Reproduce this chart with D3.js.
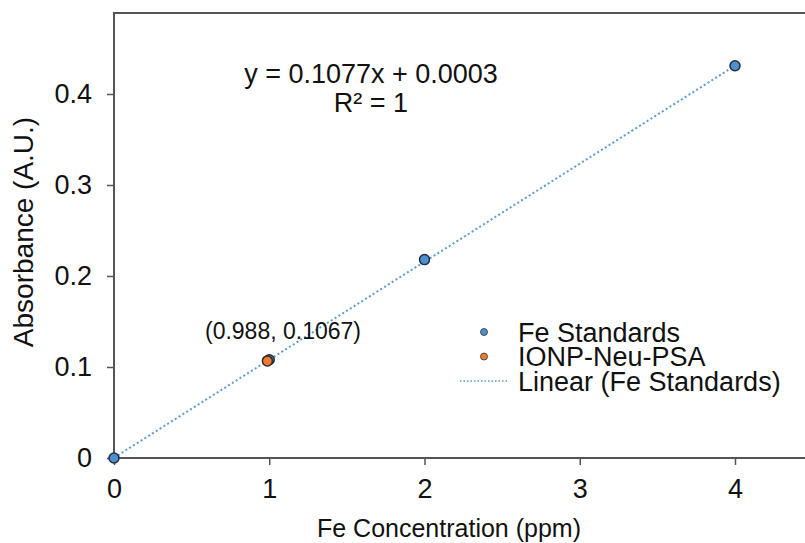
<!DOCTYPE html>
<html>
<head>
<meta charset="utf-8">
<script src="https://cdn.jsdelivr.net/npm/d3@7"></script>
<style>
html, body { margin: 0; padding: 0; background: #fff; overflow: hidden; }
text { font-family: "Liberation Sans", Arial, sans-serif; fill: #111; }
</style>
</head>
<body>
<script>

// calibration data
var stdX = [0, 1, 2, 4],
    stdY = [0, 0.108, 0.218, 0.431];
var sampleX = [0.988],
    sampleY = [0.1067];
var slope = 0.1077, intercept = 0.0003;
var xTicks = [0, 1, 2, 3, 4],
    yTicks = [0, 0.1, 0.2, 0.3, 0.4];

var w = 805, h = 543;
var svg = d3.select('body').append('svg')
    .attr('width', w)
    .attr('height', h);

var x = d3.scaleLinear().domain([0, 4]).range([114, 735]);
var y = d3.scaleLinear().domain([0, 0.4]).range([458, 94]);

var axisColor = '#555';

// frame (left, top, bottom; right edge is off the picture)
svg.append('path')
  .attr('d', 'M' + w + ',13H114V458H' + w)
  .attr('fill', 'none')
  .attr('stroke', axisColor)
  .attr('stroke-width', 2);

// y axis
var yAxis = svg.append('g')
  .attr('transform', 'translate(114,0)')
  .call(d3.axisLeft(y).tickValues(yTicks).tickSize(7).tickPadding(15)
    .tickFormat(function(d){ return d === 0 ? '0' : d3.format('.1f')(d); }));
yAxis.select('.domain').remove();
yAxis.selectAll('line').attr('stroke', axisColor).attr('stroke-width', 1.5);
yAxis.selectAll('text').style('font-size', '27px').attr('fill', '#111');

// x axis
var xAxis = svg.append('g')
  .attr('transform', 'translate(0,458)')
  .call(d3.axisBottom(x).tickValues(xTicks).tickSize(7).tickPadding(14)
    .tickFormat(d3.format('d')));
xAxis.select('.domain').remove();
xAxis.selectAll('line').attr('stroke', axisColor).attr('stroke-width', 1.5);
xAxis.selectAll('text').style('font-size', '27px').attr('fill', '#111');

// axis titles
svg.append('text')
  .attr('x', 449).attr('y', 537)
  .attr('text-anchor', 'middle')
  .style('font-size', '25px')
  .text('Fe Concentration (ppm)');

svg.append('text')
  .attr('transform', 'translate(33,232) rotate(-90)')
  .attr('text-anchor', 'middle')
  .style('font-size', '28px')
  .text('Absorbance (A.U.)');

// linear trendline
svg.append('line')
  .attr('x1', x(0)).attr('y1', y(intercept))
  .attr('x2', x(4)).attr('y2', y(slope * 4 + intercept))
  .attr('stroke', '#5b9bd5')
  .attr('stroke-width', 2)
  .attr('stroke-dasharray', '2,2.5');

var blue = '#4f8fd0', orange = '#ec7a35';

// standards
svg.selectAll('circle.std')
  .data(stdX.map(function(d, i){ return [d, stdY[i]]; }))
  .enter().append('circle')
  .attr('class', 'std')
  .attr('cx', function(d){ return x(d[0]); })
  .attr('cy', function(d){ return y(d[1]); })
  .attr('r', 5)
  .attr('fill', blue)
  .attr('stroke', '#1f2f3f')
  .attr('stroke-width', 1.5);

// sample with tiny error bar
var samples = sampleX.map(function(d, i){ return [d, sampleY[i]]; });
svg.selectAll('line.err')
  .data(samples)
  .enter().append('line')
  .attr('class', 'err')
  .attr('x1', function(d){ return x(d[0]); })
  .attr('x2', function(d){ return x(d[0]); })
  .attr('y1', function(d){ return y(d[1] + 0.002); })
  .attr('y2', function(d){ return y(d[1] - 0.002); })
  .attr('stroke', '#333')
  .attr('stroke-width', 1);

svg.selectAll('circle.smp')
  .data(samples)
  .enter().append('circle')
  .attr('class', 'smp')
  .attr('cx', function(d){ return x(d[0]); })
  .attr('cy', function(d){ return y(d[1]); })
  .attr('r', 5)
  .attr('fill', orange)
  .attr('stroke', '#3a2a20')
  .attr('stroke-width', 1.5);

svg.append('text')
  .attr('x', 283).attr('y', 339)
  .attr('text-anchor', 'middle')
  .style('font-size', '23px')
  .text('(' + sampleX[0] + ', ' + sampleY[0] + ')');

// equation
svg.append('text')
  .attr('x', 371).attr('y', 83)
  .attr('text-anchor', 'middle')
  .style('font-size', '27px')
  .text('y = ' + slope + 'x + ' + intercept.toFixed(4));
svg.append('text')
  .attr('x', 371).attr('y', 112)
  .attr('text-anchor', 'middle')
  .style('font-size', '27px')
  .text('R² = 1');

// legend
var legend = [
  {label: 'Fe Standards', type: 'dot', color: blue},
  {label: 'IONP-Neu-PSA', type: 'dot', color: orange},
  {label: 'Linear (Fe Standards)', type: 'line', color: '#5b9bd5'}
];
var lg = svg.append('g').selectAll('g')
  .data(legend)
  .enter().append('g')
  .attr('transform', function(d, i){ return 'translate(0,' + (332 + i * 24.5) + ')'; });
lg.filter(function(d){ return d.type === 'dot'; })
  .append('circle')
  .attr('cx', 484).attr('cy', 0).attr('r', 3.5)
  .attr('fill', function(d){ return d.color; })
  .attr('stroke', '#333').attr('stroke-width', 0.8);
lg.filter(function(d){ return d.type === 'line'; })
  .append('line')
  .attr('x1', 460).attr('x2', 508)
  .attr('stroke', function(d){ return d.color; })
  .attr('stroke-width', 1.5)
  .attr('stroke-dasharray', '1.5,2');
lg.append('text')
  .attr('x', 518).attr('y', 9.5)
  .style('font-size', '27px')
  .text(function(d){ return d.label; });

</script>
</body>
</html>
